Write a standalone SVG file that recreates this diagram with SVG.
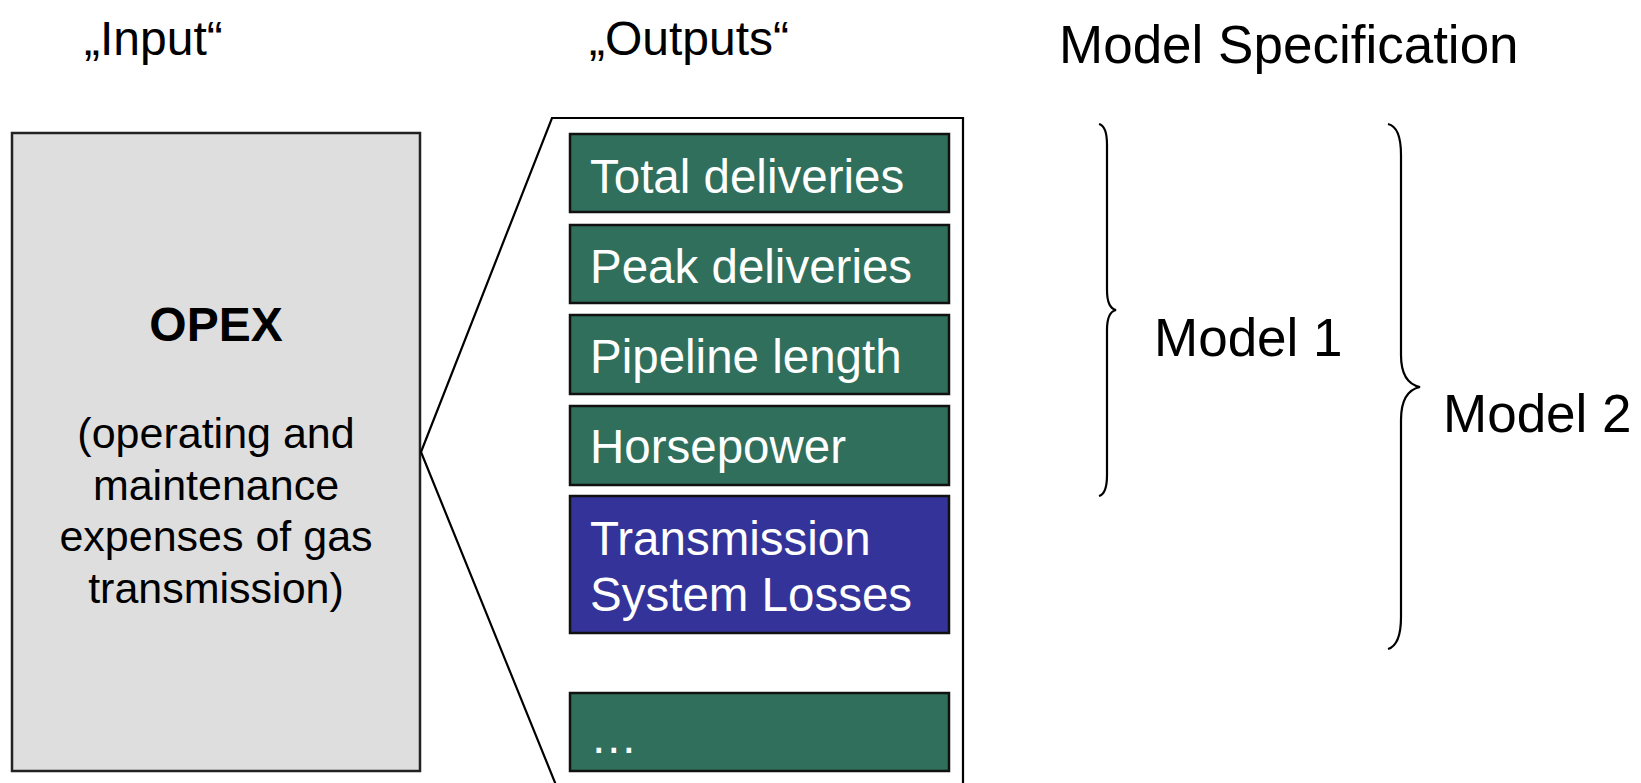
<svg xmlns="http://www.w3.org/2000/svg" width="1641" height="783" viewBox="0 0 1641 783">
<style>
  text { font-family: "Liberation Sans", Arial, sans-serif; fill: #000; }
  .hdr { font-size: 48px; }
  .big { font-size: 53px; }
  .box { stroke: #111; stroke-width: 2.5; }
  .green { fill: #2F6F5C; }
  .blue { fill: #333399; }
  .wt { fill: #fff; font-size: 47.5px; }
  .line { fill: none; stroke: #000; stroke-width: 2.2; }
</style>
<rect width="1641" height="783" fill="#fff"/>
<g id="headers">
  <text class="hdr" x="84" y="55">„Input“</text>
  <text class="hdr" x="589" y="55">„Outputs“</text>
  <text class="big" x="1059" y="63" font-size="53.5">Model Specification</text>
</g>
<g id="opex">
  <rect x="12" y="133" width="408" height="638" fill="#dedede" stroke="#222" stroke-width="2.5"/>
  <text x="216" y="341" text-anchor="middle" font-weight="bold" font-size="48">OPEX</text>
  <text x="216" y="448" text-anchor="middle" font-size="43">(operating and</text>
  <text x="216" y="500" text-anchor="middle" font-size="43">maintenance</text>
  <text x="216" y="551" text-anchor="middle" font-size="43">expenses of gas</text>
  <text x="216" y="603" text-anchor="middle" font-size="43">transmission)</text>
</g>
<g id="connectors">
  <polyline class="line" points="558,790 421,452 552,118 963,118 963,790"/>
</g>
<g id="out-total">
  <rect class="box green" x="570" y="134" width="379" height="78"/>
  <text class="wt" x="590" y="193">Total deliveries</text>
</g>
<g id="out-peak">
  <rect class="box green" x="570" y="225" width="379" height="78"/>
  <text class="wt" x="590" y="283">Peak deliveries</text>
</g>
<g id="out-pipeline">
  <rect class="box green" x="570" y="315" width="379" height="79"/>
  <text class="wt" x="590" y="373">Pipeline length</text>
</g>
<g id="out-horsepower">
  <rect class="box green" x="570" y="406" width="379" height="79"/>
  <text class="wt" x="590" y="463">Horsepower</text>
</g>
<g id="out-losses">
  <rect class="box blue" x="570" y="496" width="379" height="137"/>
  <text class="wt" x="590" y="555">Transmission</text>
  <text class="wt" x="590" y="611">System Losses</text>
</g>
<g id="out-more">
  <rect class="box green" x="570" y="693" width="379" height="78"/>
  <text class="wt" x="590" y="753">…</text>
</g>
<g id="brace-model1">
  <path class="line" d="M1099,124 Q1107,126 1107,145 L1107,290 Q1107,308 1116,310 Q1107,312 1107,330 L1107,475 Q1107,494 1099,496"/>
  <text class="big" x="1154" y="356">Model 1</text>
</g>
<g id="brace-model2">
  <path class="line" d="M1388,124 Q1401,127 1401,155 L1401,355 Q1401,383 1420,387 Q1401,391 1401,420 L1401,617 Q1401,645 1388,649"/>
  <text class="big" x="1443" y="432">Model 2</text>
</g>
</svg>
